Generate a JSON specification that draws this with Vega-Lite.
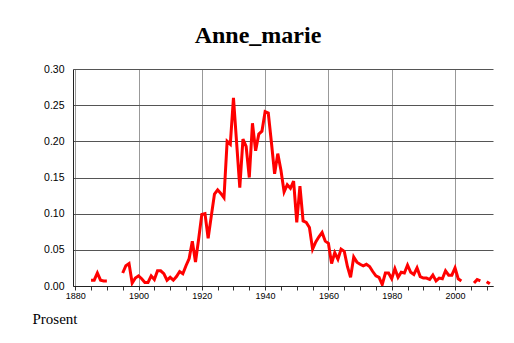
{
  "$schema": "https://vega.github.io/schema/vega-lite/v6.json",
  "autosize": "none",
  "width": 420,
  "height": 217,
  "padding": {"left": 73, "top": 69, "right": 21, "bottom": 57},
  "background": "white",
  "config": {"view": {"stroke": null}},
  "title": {
    "text": "Anne_marie",
    "font": "Liberation Serif",
    "fontSize": 24,
    "fontWeight": "bold",
    "color": "black",
    "frame": "group",
    "anchor": "middle",
    "dx": -25,
    "dy": 28,
    "baseline": "alphabetic",
    "offset": 25
  },
  "data": {
    "values": [
      {"year": 1885, "value": 0.008}, {"year": 1886, "value": 0.008}, {"year": 1887, "value": 0.018},
      {"year": 1888, "value": 0.008}, {"year": 1889, "value": 0.007}, {"year": 1890, "value": 0.007},
      {"year": 1891, "value": null}, {"year": 1892, "value": null}, {"year": 1893, "value": null}, {"year": 1894, "value": null},
      {"year": 1895, "value": 0.018}, {"year": 1896, "value": 0.028}, {"year": 1897, "value": 0.031},
      {"year": 1898, "value": 0.004}, {"year": 1899, "value": 0.011}, {"year": 1900, "value": 0.014},
      {"year": 1901, "value": 0.010}, {"year": 1902, "value": 0.005}, {"year": 1903, "value": 0.005},
      {"year": 1904, "value": 0.014}, {"year": 1905, "value": 0.009}, {"year": 1906, "value": 0.021},
      {"year": 1907, "value": 0.021}, {"year": 1908, "value": 0.017}, {"year": 1909, "value": 0.008},
      {"year": 1910, "value": 0.012}, {"year": 1911, "value": 0.008}, {"year": 1912, "value": 0.013},
      {"year": 1913, "value": 0.020}, {"year": 1914, "value": 0.017}, {"year": 1915, "value": 0.028},
      {"year": 1916, "value": 0.038}, {"year": 1917, "value": 0.062}, {"year": 1918, "value": 0.033},
      {"year": 1919, "value": 0.065}, {"year": 1920, "value": 0.099}, {"year": 1921, "value": 0.100},
      {"year": 1922, "value": 0.066}, {"year": 1923, "value": 0.097}, {"year": 1924, "value": 0.127},
      {"year": 1925, "value": 0.133}, {"year": 1926, "value": 0.128}, {"year": 1927, "value": 0.122},
      {"year": 1928, "value": 0.200}, {"year": 1929, "value": 0.196}, {"year": 1930, "value": 0.260},
      {"year": 1931, "value": 0.198}, {"year": 1932, "value": 0.136}, {"year": 1933, "value": 0.203},
      {"year": 1934, "value": 0.193}, {"year": 1935, "value": 0.150}, {"year": 1936, "value": 0.225},
      {"year": 1937, "value": 0.187}, {"year": 1938, "value": 0.210}, {"year": 1939, "value": 0.214},
      {"year": 1940, "value": 0.241}, {"year": 1941, "value": 0.239}, {"year": 1942, "value": 0.198},
      {"year": 1943, "value": 0.155}, {"year": 1944, "value": 0.183}, {"year": 1945, "value": 0.160},
      {"year": 1946, "value": 0.130}, {"year": 1947, "value": 0.140}, {"year": 1948, "value": 0.135},
      {"year": 1949, "value": 0.145}, {"year": 1950, "value": 0.088}, {"year": 1951, "value": 0.138},
      {"year": 1952, "value": 0.090}, {"year": 1953, "value": 0.088}, {"year": 1954, "value": 0.081},
      {"year": 1955, "value": 0.051}, {"year": 1956, "value": 0.061}, {"year": 1957, "value": 0.068},
      {"year": 1958, "value": 0.074}, {"year": 1959, "value": 0.062}, {"year": 1960, "value": 0.059},
      {"year": 1961, "value": 0.031}, {"year": 1962, "value": 0.046}, {"year": 1963, "value": 0.037},
      {"year": 1964, "value": 0.051}, {"year": 1965, "value": 0.048}, {"year": 1966, "value": 0.027},
      {"year": 1967, "value": 0.012}, {"year": 1968, "value": 0.040}, {"year": 1969, "value": 0.033},
      {"year": 1970, "value": 0.030}, {"year": 1971, "value": 0.028}, {"year": 1972, "value": 0.030},
      {"year": 1973, "value": 0.027}, {"year": 1974, "value": 0.020}, {"year": 1975, "value": 0.014},
      {"year": 1976, "value": 0.012}, {"year": 1977, "value": 0.002}, {"year": 1978, "value": 0.018},
      {"year": 1979, "value": 0.018}, {"year": 1980, "value": 0.010}, {"year": 1981, "value": 0.024},
      {"year": 1982, "value": 0.012}, {"year": 1983, "value": 0.019}, {"year": 1984, "value": 0.018},
      {"year": 1985, "value": 0.029}, {"year": 1986, "value": 0.019}, {"year": 1987, "value": 0.016},
      {"year": 1988, "value": 0.025}, {"year": 1989, "value": 0.013}, {"year": 1990, "value": 0.011},
      {"year": 1991, "value": 0.011}, {"year": 1992, "value": 0.009}, {"year": 1993, "value": 0.015},
      {"year": 1994, "value": 0.007}, {"year": 1995, "value": 0.011}, {"year": 1996, "value": 0.010},
      {"year": 1997, "value": 0.021}, {"year": 1998, "value": 0.015}, {"year": 1999, "value": 0.015},
      {"year": 2000, "value": 0.025}, {"year": 2001, "value": 0.010}, {"year": 2002, "value": 0.007},
      {"year": 2003, "value": null}, {"year": 2004, "value": null}, {"year": 2005, "value": null},
      {"year": 2006, "value": 0.004}, {"year": 2007, "value": 0.009}, {"year": 2008, "value": 0.007},
      {"year": 2009, "value": null},
      {"year": 2010, "value": 0.006}, {"year": 2011, "value": 0.003}
    ]
  },
  "mark": {
    "type": "line",
    "color": "#ff0000",
    "strokeWidth": 3,
    "invalid": "break-paths-show-domains",
    "clip": true
  },
  "encoding": {
    "x": {
      "field": "year",
      "type": "quantitative",
      "scale": {"domain": [1879.3, 2012], "nice": false, "zero": false},
      "axis": {
        "title": null,
        "values": [1880,1885,1890,1895,1900,1905,1910,1915,1920,1925,1930,1935,1940,1945,1950,1955,1960,1965,1970,1975,1980,1985,1990,1995,2000,2005,2010],
        "format": "d",
        "labelExpr": "datum.value % 20 === 0 ? datum.label : ''",
        "labelFont": "Liberation Sans",
        "labelFontSize": 9,
        "labelColor": "black",
        "labelPadding": 1,
        "labelFlush": false,
        "labelOverlap": false,
        "tickSize": 4,
        "tickColor": "#333",
        "domainColor": "#222",
        "grid": true,
        "gridColor": "#999",
        "gridOpacity": {"condition": {"test": "datum.value % 20 === 0", "value": 1}, "value": 0}
      }
    },
    "y": {
      "field": "value",
      "type": "quantitative",
      "scale": {"domain": [0, 0.3], "nice": false},
      "axis": {
        "values": [0, 0.05, 0.1, 0.15, 0.2, 0.25, 0.3],
        "format": ".2f",
        "labelFont": "Liberation Sans",
        "labelFontSize": 10.5,
        "labelColor": "black",
        "labelPadding": 9,
        "ticks": false,
        "domainColor": "#222",
        "grid": true,
        "gridColor": "#555",
        "title": "Prosent",
        "titleFont": "Liberation Serif",
        "titleFontSize": 15,
        "titleFontWeight": "normal",
        "titleColor": "black",
        "titleAngle": 0,
        "titleAlign": "left",
        "titleBaseline": "alphabetic",
        "titleX": -41,
        "titleY": 254
      }
    }
  }
}
